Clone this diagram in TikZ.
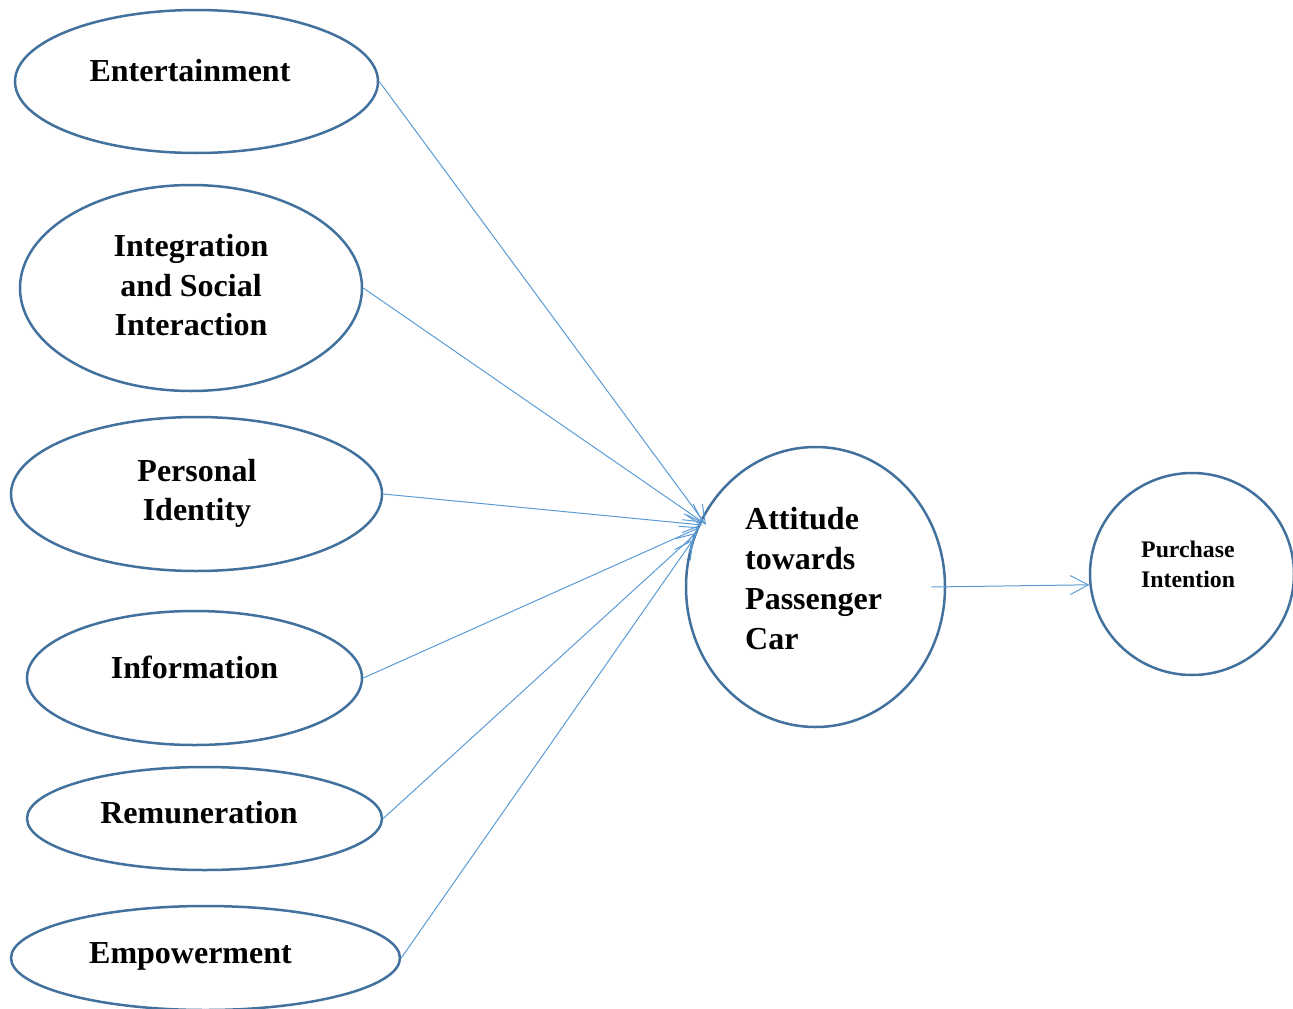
\documentclass[tikz,border=0pt]{standalone}
\usepackage{fontspec}
\setmainfont{Liberation Serif}
\usetikzlibrary{arrows.meta,shapes.geometric}
\definecolor{elborder}{HTML}{41719C}
\definecolor{arrowblue}{HTML}{5B9BD5}
\begin{document}
\begin{tikzpicture}[x=1pt,y=-1pt,
  el/.style={ellipse,draw=elborder,line width=2.5pt,inner sep=0pt},
  txt/.style={inner sep=0pt,font=\bfseries\fontsize{32}{39.5}\selectfont,align=center},
  conn/.style={draw=arrowblue,line width=1pt,-{Straight Barb[length=18pt,width=19pt,line width=1pt]}}]
\useasboundingbox (0,0) rectangle (1293,1009);
% ellipses
\node[el,minimum width=363pt,minimum height=143pt] (ent) at (196.5,81.5) {};
\node[el,minimum width=342pt,minimum height=206pt] (int) at (191,288) {};
\node[el,minimum width=371pt,minimum height=154pt] (pers) at (196.5,494) {};
\node[el,minimum width=335pt,minimum height=134pt] (info) at (194.5,678) {};
\node[el,minimum width=355pt,minimum height=103pt] (rem) at (204.5,818.5) {};
\node[el,minimum width=389pt,minimum height=104pt] (emp) at (205.5,958) {};
\node[el,minimum width=259pt,minimum height=280pt] (att) at (815.5,587) {};
\node[el,minimum width=204pt,minimum height=202pt] (pur) at (1192,574) {};
% texts
\node[txt] (entT) at (190,71) {Entertainment};
\node[txt] (intT) at (191,285.5) {Integration\\and Social\\Interaction};
\node[txt] (persT) at (197,493.5) {Personal\\Identity};
\node[txt] (infoT) at (194.5,667) {Information};
\node[txt] (remT) at (199,813) {Remuneration};
\node[txt] (empT) at (190.5,956) {Empowerment};
\node[txt,align=left,anchor=west,font=\bfseries\fontsize{32}{40}\selectfont] (attT) at (745,578.5) {Attitude\\towards\\Passenger\\Car};
\node[txt,align=left,anchor=west,font=\bfseries\fontsize{23.8}{30}\selectfont] (purT) at (1141,564) {Purchase\\Intention};
% connectors
\draw[conn,shorten >=-8pt] (ent.east) -- (att.149);
\draw[conn,shorten >=-4pt] (int.east) -- (att.150);
\draw[conn,shorten >=-4pt] (pers.east) -- (att.152);
\draw[conn,shorten >=-4pt] (info.east) -- (att.154);
\draw[conn,shorten >=-4pt] (rem.east) -- (att.157);
\draw[conn,shorten >=-3pt] (emp.east) -- (att.160);
\draw[conn] ([xshift=-15pt]att.east) -- (pur.186);
\end{tikzpicture}
\end{document}
